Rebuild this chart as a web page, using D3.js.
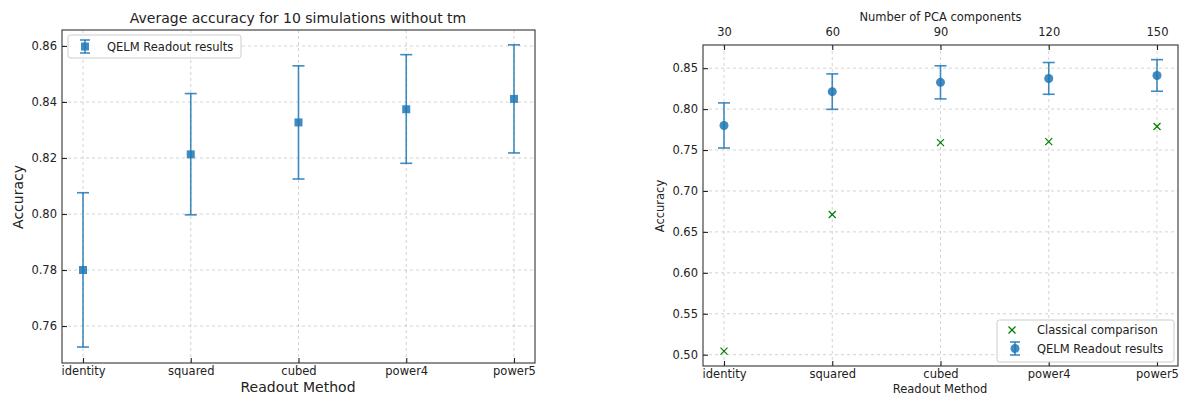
<!DOCTYPE html>
<html><head><meta charset="utf-8">
<script src="https://cdn.jsdelivr.net/npm/d3@7"></script>
<style>body{margin:0;background:#fff}svg{display:block;font-family:"DejaVu Sans",sans-serif}</style>
</head><body><svg id="c" width="1179" height="396"></svg>
<script>
const methods = ["identity","squared","cubed","power4","power5"];
const pcaComponents = [30,60,90,120,150];
const qelmMean = [0.7800,0.8213,0.8327,0.8374,0.8411];
const qelmLow  = [0.7525,0.7997,0.8125,0.8181,0.8218];
const qelmHigh = [0.8076,0.8430,0.8529,0.8569,0.8604];
const classical = [0.5044,0.6712,0.7590,0.7602,0.7788];
const leftYTicks = [0.76,0.78,0.80,0.82,0.84,0.86];
const rightYTicks = [0.50,0.55,0.60,0.65,0.70,0.75,0.80,0.85];

const svg = d3.select("#c");
const blue = "#1f77b4", green = "#008000";

function styleAxis(a){
  a.select(".domain").remove();
  a.selectAll("text").attr("font-size","11.5px").attr("fill","#222").attr("font-family","DejaVu Sans");
  a.selectAll("line").attr("stroke","#222").attr("stroke-width",1.1);
}

function panel(o){
  const g = svg.append("g");
  const x = d3.scalePoint().domain(methods).range([o.x0+o.pad, o.x1-o.pad]);
  const y = d3.scaleLinear().domain(o.ydom).range([o.y1, o.y0]);
  g.selectAll(".gx").data(methods).join("line")
    .attr("x1",d=>x(d)).attr("x2",d=>x(d)).attr("y1",o.y0).attr("y2",o.y1)
    .attr("stroke","#b0b0b0").attr("stroke-opacity",0.7).attr("stroke-dasharray","3,3").attr("stroke-width",0.8);
  g.selectAll(".gy").data(o.yticks).join("line")
    .attr("x1",o.x0).attr("x2",o.x1).attr("y1",d=>y(d)).attr("y2",d=>y(d))
    .attr("stroke","#b0b0b0").attr("stroke-opacity",0.7).attr("stroke-dasharray","3,3").attr("stroke-width",0.8);
  const fmt = d3.format(".2f");
  const ax = g.append("g").attr("transform",`translate(0,${o.y1})`)
    .call(d3.axisBottom(x).tickSize(-5).tickPadding(4));
  const ay = g.append("g").attr("transform",`translate(${o.x0},0)`)
    .call(d3.axisLeft(y).tickValues(o.yticks).tickFormat(fmt).tickSize(-5).tickPadding(5));
  styleAxis(ax); styleAxis(ay);
  if(o.top){
    const xt = d3.scalePoint().domain(pcaComponents).range(x.range());
    const at = g.append("g").attr("transform",`translate(0,${o.y0})`)
      .call(d3.axisTop(xt).tickSize(-5).tickPadding(9));
    styleAxis(at);
    g.append("text").attr("x",(o.x0+o.x1)/2).attr("y",21).attr("text-anchor","middle")
      .attr("font-size","11.5px").attr("fill","#222").text("Number of PCA components");
  }
  g.append("rect").attr("x",o.x0).attr("y",o.y0).attr("width",o.x1-o.x0).attr("height",o.y1-o.y0)
    .attr("fill","none").attr("stroke","#333").attr("stroke-width",1.1);
  const eb = g.append("g").attr("stroke",blue).attr("stroke-opacity",0.85).attr("stroke-width",1.6);
  methods.forEach((m,i)=>{
    eb.append("line").attr("x1",x(m)).attr("x2",x(m)).attr("y1",y(qelmLow[i])).attr("y2",y(qelmHigh[i]));
    [qelmLow[i],qelmHigh[i]].forEach(v=>eb.append("line").attr("x1",x(m)-6).attr("x2",x(m)+6).attr("y1",y(v)).attr("y2",y(v)));
  });
  if(o.square){
    g.selectAll(".sq").data(methods).join("rect").attr("x",d=>x(d)-4).attr("y",(d,i)=>y(qelmMean[i])-4)
      .attr("width",8).attr("height",8).attr("fill",blue).attr("fill-opacity",0.85);
  } else {
    g.selectAll(".ci").data(methods).join("circle").attr("cx",d=>x(d)).attr("cy",(d,i)=>y(qelmMean[i]))
      .attr("r",4.5).attr("fill",blue).attr("fill-opacity",0.85);
    const cx = g.append("g").attr("stroke",green).attr("stroke-width",1.2);
    methods.forEach((m,i)=>{
      const px=x(m), py=y(classical[i]), s=3.5;
      cx.append("line").attr("x1",px-s).attr("x2",px+s).attr("y1",py-s).attr("y2",py+s);
      cx.append("line").attr("x1",px-s).attr("x2",px+s).attr("y1",py+s).attr("y2",py-s);
    });
  }
  return {x,y};
}

// Left panel
panel({x0:62,x1:535,y0:30,y1:363,pad:21,ydom:[0.7468,0.8657],yticks:leftYTicks,square:true});
svg.append("text").attr("x",298).attr("y",23).attr("text-anchor","middle").attr("font-size","14px").attr("fill","#222")
  .text("Average accuracy for 10 simulations without tm");
svg.append("text").attr("transform","translate(23,197) rotate(-90)").attr("text-anchor","middle").attr("font-size","14px").attr("fill","#222").text("Accuracy");
svg.append("text").attr("x",298).attr("y",392).attr("text-anchor","middle").attr("font-size","14px").attr("fill","#222").text("Readout Method");
const lg = svg.append("g");
lg.append("rect").attr("x",68).attr("y",35).attr("width",173).attr("height",23).attr("rx",2.5)
  .attr("fill","#fff").attr("fill-opacity",0.8).attr("stroke","#ccc");
lg.append("line").attr("x1",85).attr("x2",85).attr("y1",40).attr("y2",53).attr("stroke",blue).attr("stroke-width",1.6).attr("stroke-opacity",0.85);
[40,53].forEach(v=>lg.append("line").attr("x1",80).attr("x2",90).attr("y1",v).attr("y2",v).attr("stroke",blue).attr("stroke-width",1.6).attr("stroke-opacity",0.85));
lg.append("rect").attr("x",81).attr("y",42.5).attr("width",8).attr("height",8).attr("fill",blue).attr("fill-opacity",0.85);
lg.append("text").attr("x",107).attr("y",51).attr("font-size","11.5px").attr("fill","#222").text("QELM Readout results");

// Right panel
panel({x0:703,x1:1178,y0:45,y1:366,pad:21,ydom:[0.4862,0.8783],yticks:rightYTicks,square:false,top:true});
svg.append("text").attr("transform","translate(664,206) rotate(-90)").attr("text-anchor","middle").attr("font-size","11.5px").attr("fill","#222").text("Accuracy");
svg.append("text").attr("x",940).attr("y",393).attr("text-anchor","middle").attr("font-size","11.5px").attr("fill","#222").text("Readout Method");
const rg = svg.append("g");
rg.append("rect").attr("x",997).attr("y",320).attr("width",177).attr("height",42).attr("rx",2.5)
  .attr("fill","#fff").attr("fill-opacity",0.8).attr("stroke","#ccc");
{
  const px=1012, py=330, s=3.5;
  rg.append("line").attr("x1",px-s).attr("x2",px+s).attr("y1",py-s).attr("y2",py+s).attr("stroke",green).attr("stroke-width",1.2);
  rg.append("line").attr("x1",px-s).attr("x2",px+s).attr("y1",py+s).attr("y2",py-s).attr("stroke",green).attr("stroke-width",1.2);
}
rg.append("line").attr("x1",1015).attr("x2",1015).attr("y1",342).attr("y2",355).attr("stroke",blue).attr("stroke-width",1.6).attr("stroke-opacity",0.85);
[342,355].forEach(v=>rg.append("line").attr("x1",1010).attr("x2",1020).attr("y1",v).attr("y2",v).attr("stroke",blue).attr("stroke-width",1.6).attr("stroke-opacity",0.85));
rg.append("circle").attr("cx",1015).attr("cy",348.5).attr("r",4.5).attr("fill",blue).attr("fill-opacity",0.85);
rg.append("text").attr("x",1037).attr("y",334).attr("font-size","11.5px").attr("fill","#222").text("Classical comparison");
rg.append("text").attr("x",1037).attr("y",353).attr("font-size","11.5px").attr("fill","#222").text("QELM Readout results");
</script></body></html>
